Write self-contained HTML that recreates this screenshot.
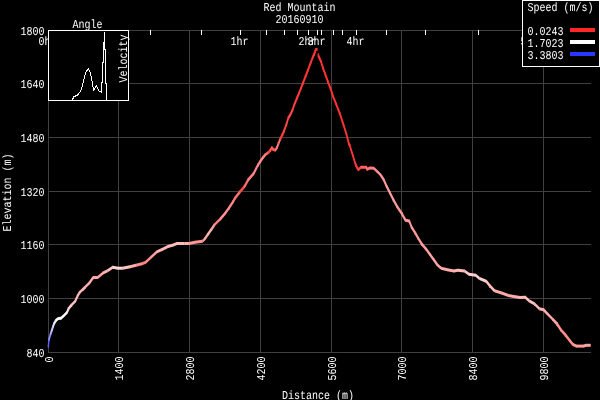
<!DOCTYPE html>
<html><head><meta charset="utf-8"><title>Red Mountain 20160910</title>
<style>html,body{margin:0;padding:0;background:#000;}svg{display:block}text{font-family:"Liberation Mono",monospace;font-size:10px;fill:#fff;white-space:pre;text-rendering:geometricPrecision}</style></head><body>
<svg width="600" height="400" viewBox="0 0 600 400">
<rect width="600" height="400" fill="#000"/>
<g stroke="#404040" stroke-width="1" shape-rendering="crispEdges">
<line x1="48.5" y1="30" x2="48.5" y2="353"/>
<line x1="118.5" y1="30" x2="118.5" y2="353"/>
<line x1="189.5" y1="30" x2="189.5" y2="353"/>
<line x1="260.5" y1="30" x2="260.5" y2="353"/>
<line x1="331.5" y1="30" x2="331.5" y2="353"/>
<line x1="401.5" y1="30" x2="401.5" y2="353"/>
<line x1="472.5" y1="30" x2="472.5" y2="353"/>
<line x1="543.5" y1="30" x2="543.5" y2="353"/>
<line x1="48" y1="30.5" x2="591" y2="30.5"/>
<line x1="48" y1="83.5" x2="591" y2="83.5"/>
<line x1="48" y1="137.5" x2="591" y2="137.5"/>
<line x1="48" y1="191.5" x2="591" y2="191.5"/>
<line x1="48" y1="244.5" x2="591" y2="244.5"/>
<line x1="48" y1="298.5" x2="591" y2="298.5"/>
<line x1="48" y1="352.5" x2="591" y2="352.5"/>
</g>
<g stroke="#fff" stroke-width="1" shape-rendering="crispEdges">
<line x1="150.5" y1="30" x2="150.5" y2="35"/>
<line x1="201.5" y1="30" x2="201.5" y2="35"/>
<line x1="240.5" y1="30" x2="240.5" y2="35"/>
<line x1="266.5" y1="30" x2="266.5" y2="35"/>
<line x1="284.5" y1="30" x2="284.5" y2="35"/>
<line x1="297.5" y1="30" x2="297.5" y2="35"/>
<line x1="308.5" y1="30" x2="308.5" y2="35"/>
<line x1="317.5" y1="30" x2="317.5" y2="35"/>
<line x1="321.5" y1="30" x2="321.5" y2="35"/>
<line x1="333.5" y1="30" x2="333.5" y2="35"/>
<line x1="342.5" y1="30" x2="342.5" y2="35"/>
<line x1="356.5" y1="30" x2="356.5" y2="35"/>
<line x1="386.5" y1="30" x2="386.5" y2="35"/>
<line x1="425.5" y1="30" x2="425.5" y2="35"/>
<line x1="478.5" y1="30" x2="478.5" y2="35"/>
<line x1="530.5" y1="30" x2="530.5" y2="35"/>
</g>
<text transform="translate(38.5,45) scale(1,1.2)">0hr</text>
<text transform="translate(230.5,45) scale(1,1.2)">1hr</text>
<text transform="translate(298.5,45) scale(1,1.2)">2hr</text>
<text transform="translate(307.5,45) scale(1,1.2)">3hr</text>
<text transform="translate(346.5,45) scale(1,1.2)">4hr</text>
<text transform="translate(520.5,45) scale(1,1.2)">5hr</text>
<text transform="translate(20.5,35) scale(1,1.2)">1800</text>
<text transform="translate(20.5,88) scale(1,1.2)">1640</text>
<text transform="translate(20.5,142) scale(1,1.2)">1480</text>
<text transform="translate(20.5,196) scale(1,1.2)">1320</text>
<text transform="translate(20.5,249) scale(1,1.2)">1160</text>
<text transform="translate(20.5,303) scale(1,1.2)">1000</text>
<text transform="translate(26.5,357) scale(1,1.2)">840</text>
<text transform="translate(53,362.5) rotate(-90) scale(1,1.2)">0</text>
<text transform="translate(123,380.5) rotate(-90) scale(1,1.2)">1400</text>
<text transform="translate(194,380.5) rotate(-90) scale(1,1.2)">2800</text>
<text transform="translate(265,380.5) rotate(-90) scale(1,1.2)">4200</text>
<text transform="translate(336,380.5) rotate(-90) scale(1,1.2)">5600</text>
<text transform="translate(406,380.5) rotate(-90) scale(1,1.2)">7000</text>
<text transform="translate(477,380.5) rotate(-90) scale(1,1.2)">8400</text>
<text transform="translate(548,380.5) rotate(-90) scale(1,1.2)">9800</text>
<text transform="translate(263.5,11) scale(1,1.2)">Red Mountain</text>
<text transform="translate(275.5,23) scale(1,1.2)">20160910</text>
<text transform="translate(282.0,399) scale(1,1.2)">Distance (m)</text>
<text transform="translate(11,231.5) rotate(-90) scale(1,1.2)">Elevation (m)</text>
<g stroke="none">
<polygon fill="#6363ff" points="47.7,345.2 48.4,338.2 49.6,338.2 49.6,340.8 48.9,347.8 47.7,347.8"/>
<polygon fill="#8b8bff" points="48.4,338.2 50.1,332.2 51.3,332.2 51.3,334.8 49.6,340.8 48.4,340.8"/>
<polygon fill="#b7b7ff" points="50.1,332.2 51.3,328.7 52.5,328.7 52.5,331.3 51.3,334.8 50.1,334.8"/>
<polygon fill="#c9c9ff" points="51.3,328.7 52.5,325.2 53.7,325.2 53.7,327.8 52.5,331.3 51.3,331.3"/>
<polygon fill="#dbdbff" points="52.5,325.2 53.6,322.2 54.8,322.2 54.8,324.8 53.7,327.8 52.5,327.8"/>
<polygon fill="#ececff" points="53.6,322.2 55.4,318.9 56.6,318.9 56.6,321.5 54.8,324.8 53.6,324.8"/>
<polygon fill="#ffffff" points="55.8,318.7 58.1,317.0 58.5,317.0 58.5,320.0 56.2,321.7 55.8,321.7"/>
<polygon fill="#ffffff" points="58.1,317.0 60.8,316.7 61.2,316.7 61.2,319.7 58.5,320.0 58.1,320.0"/>
<polygon fill="#ffffff" points="60.8,316.7 63.8,314.0 64.2,314.0 64.2,317.0 61.2,319.7 60.8,319.7"/>
<polygon fill="#ffffff" points="63.8,314.0 66.8,311.0 67.2,311.0 67.2,314.0 64.2,317.0 63.8,317.0"/>
<polygon fill="#ffebeb" points="66.4,311.2 67.9,307.45 69.1,307.45 69.1,310.05 67.6,313.8 66.4,313.8"/>
<polygon fill="#ffd1d1" points="67.9,307.45 70.9,303.7 72.1,303.7 72.1,306.3 69.1,310.05 67.9,310.05"/>
<polygon fill="#ffc6c6" points="71.3,303.5 75.05,299.75 75.45,299.75 75.45,302.75 71.7,306.5 71.3,306.5"/>
<polygon fill="#ffbdbd" points="74.65,299.95 76.9,294.7 78.1,294.7 78.1,297.3 75.85,302.55 74.65,302.55"/>
<polygon fill="#ffb7b7" points="76.9,294.7 79.15,290.95 80.35,290.95 80.35,293.55 78.1,297.3 76.9,297.3"/>
<polygon fill="#ffb5b5" points="79.55,290.75 82.55,288.1 82.95,288.1 82.95,291.1 79.95,293.75 79.55,293.75"/>
<polygon fill="#ffb3b3" points="82.15,288.3 84.4,285.95 85.6,285.95 85.6,288.55 83.35,290.9 82.15,290.9"/>
<polygon fill="#ffb0b0" points="84.8,285.75 89.3,281.25 89.7,281.25 89.7,284.25 85.2,288.75 84.8,288.75"/>
<polygon fill="#ffacac" points="88.9,281.45 92.65,276.2 93.85,276.2 93.85,278.8 90.1,284.05 88.9,284.05"/>
<polygon fill="#ffa8a8" points="93.05,276.0 97.95,276.0 97.95,279.0 93.05,279.0"/>
<polygon fill="#ffa4a4" points="97.55,276.0 102.8,271.5 103.2,271.5 103.2,274.5 97.95,279.0 97.55,279.0"/>
<polygon fill="#ffb3b3" points="102.8,271.5 107.3,269.25 107.7,269.25 107.7,272.25 103.2,274.5 102.8,274.5"/>
<polygon fill="#ffc1c1" points="107.3,269.25 112.55,265.8 112.95,265.8 112.95,268.8 107.7,272.25 107.3,272.25"/>
<polygon fill="#ffd5d5" points="112.55,265.8 112.95,265.8 118.2,266.7 118.2,269.7 117.8,269.7 112.55,268.8"/>
<polygon fill="#ffdada" points="117.8,266.7 122.7,266.7 122.7,269.7 117.8,269.7"/>
<polygon fill="#ffc7c7" points="122.3,266.7 129.8,265.2 130.2,265.2 130.2,268.2 122.7,269.7 122.3,269.7"/>
<polygon fill="#ffadad" points="129.8,265.2 135.8,263.7 136.2,263.7 136.2,266.7 130.2,268.2 129.8,268.2"/>
<polygon fill="#ff9090" points="135.8,263.7 141.8,262.2 142.2,262.2 142.2,265.2 136.2,266.7 135.8,266.7"/>
<polygon fill="#ff7e7e" points="141.8,262.2 145.55,260.7 145.95,260.7 145.95,263.7 142.2,265.2 141.8,265.2"/>
<polygon fill="#ff8e8e" points="145.55,260.7 150.8,255.75 151.2,255.75 151.2,258.75 145.95,263.7 145.55,263.7"/>
<polygon fill="#ffa0a0" points="150.8,255.75 156.8,250.2 157.2,250.2 157.2,253.2 151.2,258.75 150.8,258.75"/>
<polygon fill="#ffb1b1" points="156.8,250.2 161.8,248.0 162.2,248.0 162.2,251.0 157.2,253.2 156.8,253.2"/>
<polygon fill="#ffb7b7" points="161.8,248.0 167.8,245.0 168.2,245.0 168.2,248.0 162.2,251.0 161.8,251.0"/>
<polygon fill="#ffbcbc" points="167.8,245.0 173.05,243.5 173.45,243.5 173.45,246.5 168.2,248.0 167.8,248.0"/>
<polygon fill="#ffbfbf" points="173.05,243.5 176.8,242.0 177.2,242.0 177.2,245.0 173.45,246.5 173.05,246.5"/>
<polygon fill="#ffbbbb" points="176.8,242.0 184.7,242.0 184.7,245.0 176.8,245.0"/>
<polygon fill="#ffb0b0" points="184.3,242.0 189.2,242.0 189.2,245.0 184.3,245.0"/>
<polygon fill="#ff9999" points="188.8,242.0 194.8,240.8 195.2,240.8 195.2,243.8 189.2,245.0 188.8,245.0"/>
<polygon fill="#ff9191" points="194.8,240.8 202.3,239.75 202.7,239.75 202.7,242.75 195.2,243.8 194.8,243.8"/>
<polygon fill="#ff9090" points="202.3,239.75 204.55,237.5 204.95,237.5 204.95,240.5 202.7,242.75 202.3,242.75"/>
<polygon fill="#ffa6a6" points="204.15,237.7 207.15,233.2 208.35,233.2 208.35,235.8 205.35,240.3 204.15,240.3"/>
<polygon fill="#ffb6b6" points="207.15,233.2 210.9,227.95 212.1,227.95 212.1,230.55 208.35,235.8 207.15,235.8"/>
<polygon fill="#ffa2a2" points="210.9,227.95 213.9,223.45 215.1,223.45 215.1,226.05 212.1,230.55 210.9,230.55"/>
<polygon fill="#ff8080" points="214.3,223.25 220.3,217.25 220.7,217.25 220.7,220.25 214.7,226.25 214.3,226.25"/>
<polygon fill="#ff9393" points="219.9,217.45 224.4,212.2 225.6,212.2 225.6,214.8 221.1,220.05 219.9,220.05"/>
<polygon fill="#ff8f8f" points="224.4,212.2 228.15,206.95 229.35,206.95 229.35,209.55 225.6,214.8 224.4,214.8"/>
<polygon fill="#ff8989" points="228.15,206.95 232.65,200.2 233.85,200.2 233.85,202.8 229.35,209.55 228.15,209.55"/>
<polygon fill="#ff8080" points="232.65,200.2 234.15,197.2 235.35,197.2 235.35,199.8 233.85,202.8 232.65,202.8"/>
<polygon fill="#ff7575" points="234.15,197.2 239.4,190.45 240.6,190.45 240.6,193.05 235.35,199.8 234.15,199.8"/>
<polygon fill="#ff4b4b" points="239.4,190.45 243.9,185.2 245.1,185.2 245.1,187.8 240.6,193.05 239.4,193.05"/>
<polygon fill="#ff7070" points="243.9,185.2 247.65,178.45 248.85,178.45 248.85,181.05 245.1,187.8 243.9,187.8"/>
<polygon fill="#ff8080" points="247.65,178.45 252.9,172.45 254.1,172.45 254.1,175.05 248.85,181.05 247.65,181.05"/>
<polygon fill="#ff8686" points="252.9,172.45 257.4,163.7 258.6,163.7 258.6,166.3 254.1,175.05 252.9,175.05"/>
<polygon fill="#ff8989" points="257.4,163.7 259.9,159.7 261.1,159.7 261.1,162.3 258.6,166.3 257.4,166.3"/>
<polygon fill="#ff8c8c" points="259.9,159.7 262.4,156.2 263.6,156.2 263.6,158.8 261.1,162.3 259.9,162.3"/>
<polygon fill="#ff8585" points="262.4,156.2 264.9,153.2 266.1,153.2 266.1,155.8 263.6,158.8 262.4,158.8"/>
<polygon fill="#ff6a6a" points="265.3,153.0 268.3,151.0 268.7,151.0 268.7,154.0 265.7,156.0 265.3,156.0"/>
<polygon fill="#ff4343" points="267.9,151.2 269.9,148.7 271.1,148.7 271.1,151.3 269.1,153.8 267.9,153.8"/>
<polygon fill="#ff4e4e" points="269.9,148.7 271.2,146.5 272.4,146.5 272.4,149.1 271.1,151.3 269.9,151.3"/>
<polygon fill="#ff6262" points="271.2,146.5 272.4,146.5 274.1,148.5 274.1,151.1 272.9,151.1 271.2,149.1"/>
<polygon fill="#ff5353" points="273.3,148.3 273.7,148.3 275.7,148.5 275.7,151.5 275.3,151.5 273.3,151.3"/>
<polygon fill="#ff6c6c" points="274.9,148.7 276.4,146.2 277.6,146.2 277.6,148.8 276.1,151.3 274.9,151.3"/>
<polygon fill="#ff8080" points="276.4,146.2 277.9,142.2 279.1,142.2 279.1,144.8 277.6,148.8 276.4,148.8"/>
<polygon fill="#ff6e6e" points="277.9,142.2 279.9,137.2 281.1,137.2 281.1,139.8 279.1,144.8 277.9,144.8"/>
<polygon fill="#ff3b3b" points="279.9,137.2 281.9,133.2 283.1,133.2 283.1,135.8 281.1,139.8 279.9,139.8"/>
<polygon fill="#ff4444" points="281.9,133.2 283.4,129.7 284.6,129.7 284.6,132.3 283.1,135.8 281.9,135.8"/>
<polygon fill="#ff4747" points="283.4,129.7 285.9,122.7 287.1,122.7 287.1,125.3 284.6,132.3 283.4,132.3"/>
<polygon fill="#ff4747" points="285.9,122.7 287.9,116.2 289.1,116.2 289.1,118.8 287.1,125.3 285.9,125.3"/>
<polygon fill="#ff4747" points="287.9,116.2 289.9,113.2 291.1,113.2 291.1,115.8 289.1,118.8 287.9,118.8"/>
<polygon fill="#ff4545" points="289.9,113.2 291.9,108.7 293.1,108.7 293.1,111.3 291.1,115.8 289.9,115.8"/>
<polygon fill="#ff4242" points="291.9,108.7 293.9,102.7 295.1,102.7 295.1,105.3 293.1,111.3 291.9,111.3"/>
<polygon fill="#ff3f3f" points="293.9,102.7 296.4,96.7 297.6,96.7 297.6,99.3 295.1,105.3 293.9,105.3"/>
<polygon fill="#ff3b3b" points="296.4,96.7 298.4,91.9 299.6,91.9 299.6,94.5 297.6,99.3 296.4,99.3"/>
<polygon fill="#ff3838" points="298.4,91.9 302.4,81.7 303.6,81.7 303.6,84.3 299.6,94.5 298.4,94.5"/>
<polygon fill="#ff3737" points="302.4,81.7 304.9,75.1 306.1,75.1 306.1,77.7 303.6,84.3 302.4,84.3"/>
<polygon fill="#ff3636" points="304.9,75.1 307.4,68.7 308.6,68.7 308.6,71.3 306.1,77.7 304.9,77.7"/>
<polygon fill="#ff3535" points="307.4,68.7 309.9,61.9 311.1,61.9 311.1,64.5 308.6,71.3 307.4,71.3"/>
<polygon fill="#ff3434" points="309.9,61.9 312.8,54.5 314.0,54.5 314.0,57.1 311.1,64.5 309.9,64.5"/>
<polygon fill="#ff3434" points="312.8,54.5 313.6,52.7 314.8,52.7 314.8,55.3 314.0,57.1 312.8,57.1"/>
<polygon fill="#ff3333" points="313.6,52.7 314.6,50.2 315.8,50.2 315.8,52.8 314.8,55.3 313.6,55.3"/>
<polygon fill="#ff3333" points="314.6,50.2 315.0,48.2 316.2,48.2 316.2,50.8 315.8,52.8 314.6,52.8"/>
<polygon fill="#ff3333" points="315.4,48.0 317.6,48.0 317.6,51.0 315.4,51.0"/>
<polygon fill="#ff3333" points="317.7,53.3 318.9,53.3 319.1,54.7 319.1,57.3 317.9,57.3 317.7,55.9"/>
<polygon fill="#ff3333" points="317.9,54.7 319.1,54.7 321.6,60.2 321.6,62.8 320.4,62.8 317.9,57.3"/>
<polygon fill="#ff3333" points="320.4,60.2 321.6,60.2 323.6,66.7 323.6,69.3 322.4,69.3 320.4,62.8"/>
<polygon fill="#ff3333" points="322.4,66.7 323.6,66.7 326.1,73.7 326.1,76.3 324.9,76.3 322.4,69.3"/>
<polygon fill="#ff3333" points="324.9,73.7 326.1,73.7 328.6,80.7 328.6,83.3 327.4,83.3 324.9,76.3"/>
<polygon fill="#ff3333" points="327.4,80.7 328.6,80.7 331.1,87.2 331.1,89.8 329.9,89.8 327.4,83.3"/>
<polygon fill="#ff3333" points="329.9,87.2 331.1,87.2 332.6,91.7 332.6,94.3 331.4,94.3 329.9,89.8"/>
<polygon fill="#ff3333" points="331.4,91.7 332.6,91.7 333.6,94.95 333.6,97.55 332.4,97.55 331.4,94.3"/>
<polygon fill="#ff3333" points="332.4,94.95 333.6,94.95 336.6,102.45 336.6,105.05 335.4,105.05 332.4,97.55"/>
<polygon fill="#ff3333" points="335.4,102.45 336.6,102.45 340.35,112.2 340.35,114.8 339.15,114.8 335.4,105.05"/>
<polygon fill="#ff3333" points="339.15,112.2 340.35,112.2 344.1,123.45 344.1,126.05 342.9,126.05 339.15,114.8"/>
<polygon fill="#ff3333" points="342.9,123.45 344.1,123.45 347.1,133.2 347.1,135.8 345.9,135.8 342.9,126.05"/>
<polygon fill="#ff3333" points="345.9,133.2 347.1,133.2 349.35,142.2 349.35,144.8 348.15,144.8 345.9,135.8"/>
<polygon fill="#ff3333" points="348.15,142.2 349.35,142.2 350.35,144.2 350.35,146.8 349.15,146.8 348.15,144.8"/>
<polygon fill="#ff3434" points="349.15,144.2 350.35,144.2 353.35,153.95 353.35,156.55 352.15,156.55 349.15,146.8"/>
<polygon fill="#ff3636" points="352.15,153.95 353.35,153.95 356.35,163.7 356.35,166.3 355.15,166.3 352.15,156.55"/>
<polygon fill="#ff3737" points="355.15,163.7 356.35,163.7 358.9,168.5 358.9,171.1 357.7,171.1 355.15,166.3"/>
<polygon fill="#ff4646" points="358.1,168.3 360.8,165.75 361.2,165.75 361.2,168.75 358.5,171.3 358.1,171.3"/>
<polygon fill="#ff5f5f" points="360.8,165.75 366.45,165.75 366.45,168.75 360.8,168.75"/>
<polygon fill="#ff6b6b" points="365.65,165.95 366.85,165.95 367.6,167.9 367.6,170.5 366.4,170.5 365.65,168.55"/>
<polygon fill="#ff7272" points="366.8,167.7 369.8,166.5 370.2,166.5 370.2,169.5 367.2,170.7 366.8,170.7"/>
<polygon fill="#ff7f7f" points="369.8,166.5 370.2,166.5 373.95,166.8 373.95,169.8 373.55,169.8 369.8,169.5"/>
<polygon fill="#ff8888" points="373.55,166.8 373.95,166.8 376.95,169.5 376.95,172.5 376.55,172.5 373.55,169.8"/>
<polygon fill="#ff9090" points="376.55,169.5 376.95,169.5 380.7,173.25 380.7,176.25 380.3,176.25 376.55,172.5"/>
<polygon fill="#ff9696" points="379.9,173.45 381.1,173.45 384.1,177.95 384.1,180.55 382.9,180.55 379.9,176.05"/>
<polygon fill="#ff9999" points="382.9,177.95 384.1,177.95 387.1,184.7 387.1,187.3 385.9,187.3 382.9,180.55"/>
<polygon fill="#ff9c9c" points="385.9,184.7 387.1,184.7 390.35,191.2 390.35,193.8 389.15,193.8 385.9,187.3"/>
<polygon fill="#ff9d9d" points="389.15,191.2 390.35,191.2 394.1,198.7 394.1,201.3 392.9,201.3 389.15,193.8"/>
<polygon fill="#ff9b9b" points="392.9,198.7 394.1,198.7 397.85,205.45 397.85,208.05 396.65,208.05 392.9,201.3"/>
<polygon fill="#ff9999" points="396.65,205.45 397.85,205.45 402.35,212.2 402.35,214.8 401.15,214.8 396.65,208.05"/>
<polygon fill="#ff9999" points="401.15,212.2 402.35,212.2 406.1,218.95 406.1,221.55 404.9,221.55 401.15,214.8"/>
<polygon fill="#ff9999" points="405.3,218.75 405.7,218.75 409.45,219.5 409.45,222.5 409.05,222.5 405.3,221.75"/>
<polygon fill="#ff9999" points="408.65,219.7 409.85,219.7 412.1,225.7 412.1,228.3 410.9,228.3 408.65,222.3"/>
<polygon fill="#ff9999" points="410.9,225.7 412.1,225.7 415.85,231.7 415.85,234.3 414.65,234.3 410.9,228.3"/>
<polygon fill="#ff9999" points="414.65,231.7 415.85,231.7 418.85,236.95 418.85,239.55 417.65,239.55 414.65,234.3"/>
<polygon fill="#ff9999" points="417.65,236.95 418.85,236.95 422.35,242.7 422.35,245.3 421.15,245.3 417.65,239.55"/>
<polygon fill="#ff9c9c" points="421.15,242.7 422.35,242.7 426.85,247.95 426.85,250.55 425.65,250.55 421.15,245.3"/>
<polygon fill="#ff9e9e" points="425.65,247.95 426.85,247.95 430.6,253.2 430.6,255.8 429.4,255.8 425.65,250.55"/>
<polygon fill="#ffa1a1" points="429.4,253.2 430.6,253.2 434.35,258.45 434.35,261.05 433.15,261.05 429.4,255.8"/>
<polygon fill="#ffa3a3" points="433.15,258.45 434.35,258.45 438.1,263.7 438.1,266.3 436.9,266.3 433.15,261.05"/>
<polygon fill="#ffa5a5" points="437.3,263.5 437.7,263.5 441.45,266.8 441.45,269.8 441.05,269.8 437.3,266.5"/>
<polygon fill="#ffa9a9" points="441.05,266.8 441.45,266.8 447.45,268.3 447.45,271.3 447.05,271.3 441.05,269.8"/>
<polygon fill="#ffafaf" points="447.05,268.3 447.45,268.3 454.2,269.5 454.2,272.5 453.8,272.5 447.05,271.3"/>
<polygon fill="#ffb4b4" points="453.8,269.5 457.55,268.75 457.95,268.75 457.95,271.75 454.2,272.5 453.8,272.5"/>
<polygon fill="#ffbdbd" points="457.55,268.75 457.95,268.75 464.7,269.5 464.7,272.5 464.3,272.5 457.55,271.75"/>
<polygon fill="#ffc6c6" points="464.3,269.5 464.7,269.5 469.2,272.8 469.2,275.8 468.8,275.8 464.3,272.5"/>
<polygon fill="#ffcece" points="468.8,272.8 469.2,272.8 475.95,273.7 475.95,276.7 475.55,276.7 468.8,275.8"/>
<polygon fill="#ffd4d4" points="475.55,273.7 475.95,273.7 479.7,277.0 479.7,280.0 479.3,280.0 475.55,276.7"/>
<polygon fill="#ffd0d0" points="479.3,277.0 479.7,277.0 486.45,279.7 486.45,282.7 486.05,282.7 479.3,280.0"/>
<polygon fill="#ffc4c4" points="485.65,279.9 486.85,279.9 490.6,284.7 490.6,287.3 489.4,287.3 485.65,282.5"/>
<polygon fill="#ffbaba" points="489.4,284.7 490.6,284.7 495.1,289.5 495.1,292.1 493.9,292.1 489.4,287.3"/>
<polygon fill="#ffabab" points="494.3,289.3 494.7,289.3 501.9,291.5 501.9,294.5 501.5,294.5 494.3,292.3"/>
<polygon fill="#ffa9a9" points="501.5,291.5 501.9,291.5 508.6,293.9 508.6,296.9 508.2,296.9 501.5,294.5"/>
<polygon fill="#ffadad" points="508.2,293.9 508.6,293.9 515.3,295.2 515.3,298.2 514.9,298.2 508.2,296.9"/>
<polygon fill="#ffb1b1" points="514.9,295.2 515.3,295.2 520.3,296.1 520.3,299.1 519.9,299.1 514.9,298.2"/>
<polygon fill="#ffb8b8" points="519.9,296.1 525.0,295.7 525.4,295.7 525.4,298.7 520.3,299.1 519.9,299.1"/>
<polygon fill="#ffc1c1" points="525.0,295.7 525.4,295.7 529.5,299.4 529.5,302.4 529.1,302.4 525.0,298.7"/>
<polygon fill="#ffc3c3" points="529.1,299.4 529.5,299.4 534.6,302.3 534.6,305.3 534.2,305.3 529.1,302.4"/>
<polygon fill="#ffb9b9" points="534.2,302.3 534.6,302.3 539.6,307.3 539.6,310.3 539.2,310.3 534.2,305.3"/>
<polygon fill="#ffb1b1" points="539.2,307.3 539.6,307.3 543.8,308.3 543.8,311.3 543.4,311.3 539.2,310.3"/>
<polygon fill="#ffaeae" points="543.0,308.5 544.2,308.5 548.4,313.0 548.4,315.6 547.2,315.6 543.0,311.1"/>
<polygon fill="#ffaaaa" points="547.6,312.8 548.0,312.8 553.0,317.8 553.0,320.8 552.6,320.8 547.6,315.8"/>
<polygon fill="#ffa6a6" points="552.2,318.0 553.4,318.0 557.6,322.6 557.6,325.2 556.4,325.2 552.2,320.6"/>
<polygon fill="#ff9898" points="556.4,322.6 557.6,322.6 561.8,328.9 561.8,331.5 560.6,331.5 556.4,325.2"/>
<polygon fill="#ff8a8a" points="560.6,328.9 561.8,328.9 566.0,333.6 566.0,336.2 564.8,336.2 560.6,331.5"/>
<polygon fill="#ff8a8a" points="564.8,333.6 566.0,333.6 570.1,339.0 570.1,341.6 568.9,341.6 564.8,336.2"/>
<polygon fill="#ff9191" points="568.9,339.0 570.1,339.0 573.5,343.2 573.5,345.8 572.3,345.8 568.9,341.6"/>
<polygon fill="#ff9898" points="572.7,343.0 573.1,343.0 576.4,344.6 576.4,347.6 576.0,347.6 572.7,346.0"/>
<polygon fill="#ff9d9d" points="576.0,344.6 584.0,344.6 584.0,347.6 576.0,347.6"/>
<polygon fill="#ffa1a1" points="583.6,344.6 586.1,343.8 586.5,343.8 586.5,346.8 584.0,347.6 583.6,347.6"/>
<polygon fill="#ffa4a4" points="586.1,343.8 590.7,343.8 590.7,346.8 586.1,346.8"/>
</g>
<rect x="48.5" y="30.5" width="80" height="70" fill="#000" stroke="#fff" stroke-width="1" shape-rendering="crispEdges"/>
<polyline fill="none" stroke="#fff" stroke-width="1" shape-rendering="crispEdges" points="72.5,100 73.5,97 75.5,96 78,94.8 80.5,91 82,87.5 83.5,81 85.5,73 87,70.5 88.5,68.5 90,72 91.5,78 92.5,83 93.5,90.5 96.5,85.5 99,91 101.5,92 101.5,82.5 102.5,82 102.5,62 103.5,62 103.5,42.5 104.5,42.5 104.5,32 104.5,49 105.5,49 105.5,83 106.5,83 106.5,100"/>
<text transform="translate(72.5,28) scale(1,1.2)">Angle</text>
<text transform="translate(126.5,82.5) rotate(-90) scale(1,1.2)">Velocity</text>
<rect x="522.5" y="0.5" width="77" height="66" fill="#000" stroke="#fff" stroke-width="1" shape-rendering="crispEdges"/>
<text transform="translate(527.5,11) scale(1,1.2)">Speed (m/s)</text>
<text transform="translate(527.5,35) scale(1,1.2)">0.0243</text>
<rect x="570" y="28" width="25" height="4" fill="#ff2828" shape-rendering="crispEdges"/>
<text transform="translate(527.5,47) scale(1,1.2)">1.7023</text>
<rect x="570" y="40" width="25" height="4" fill="#ffffff" shape-rendering="crispEdges"/>
<text transform="translate(527.5,59) scale(1,1.2)">3.3803</text>
<rect x="570" y="52" width="25" height="4" fill="#2838ff" shape-rendering="crispEdges"/>
</svg></body></html>
